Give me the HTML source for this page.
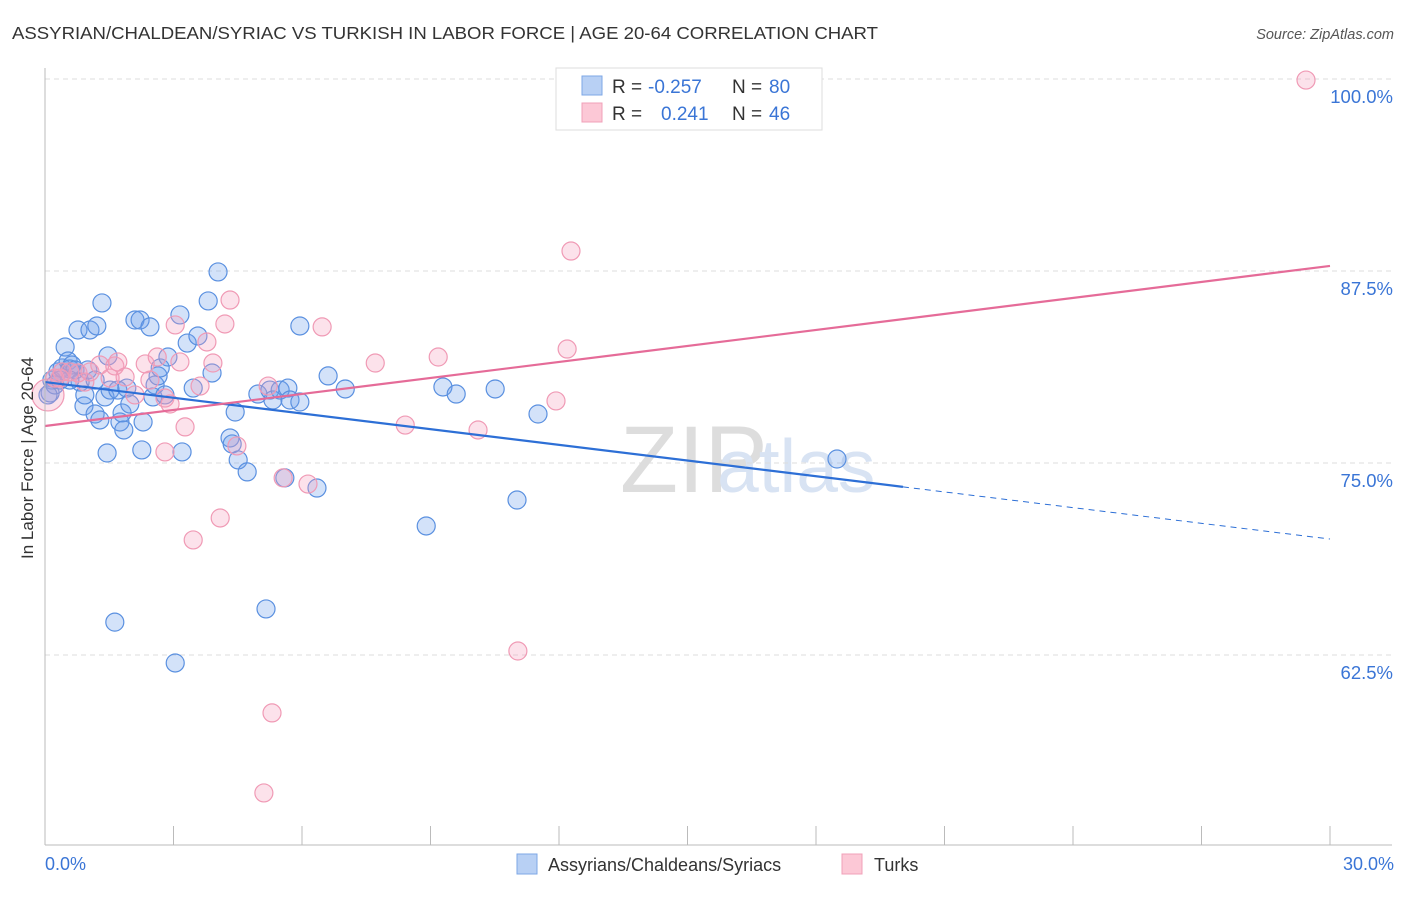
<!DOCTYPE html>
<html><head><meta charset="utf-8"><style>
body{margin:0;background:#fff;font-family:"Liberation Sans",sans-serif;}
svg text{font-family:"Liberation Sans",sans-serif;}
</style></head><body>
<svg id="c" width="1406" height="892">
<text x="12" y="39" font-size="17.5" fill="#333" textLength="866" lengthAdjust="spacingAndGlyphs">ASSYRIAN/CHALDEAN/SYRIAC VS TURKISH IN LABOR FORCE | AGE 20-64 CORRELATION CHART</text>
<text x="1394" y="39" font-size="14.5" fill="#555" font-style="italic" text-anchor="end">Source: ZipAtlas.com</text>
<text x="620" y="492" font-size="95" fill="#ddd" font-family="Liberation Serif">ZIP</text>
<text x="717" y="492" font-size="75" fill="#d8e3f3">atlas</text>
<g id="grid"></g><g id="pts"></g><g id="lines"></g>
<line x1="45" y1="68" x2="45" y2="845" stroke="#bbb"/>
<line x1="45" y1="845" x2="1392" y2="845" stroke="#bbb"/>
<text x="33" y="458" font-size="17" fill="#333" transform="rotate(-90 33 458)" text-anchor="middle">In Labor Force | Age 20-64</text>
<text x="45" y="870" font-size="18" fill="#3a75d6">0.0%</text>
<text x="1394" y="870" font-size="18" fill="#3a75d6" text-anchor="end">30.0%</text>
<g>
<rect x="556" y="68" width="266" height="62" fill="#fff" stroke="#ddd"/>
<rect x="582" y="76" width="20" height="19" fill="#b8d0f4" stroke="#7ea7e6"/>
<rect x="582" y="103" width="20" height="19" fill="#fcc8d6" stroke="#f0a0b8"/>
<text x="612" y="93" font-size="19" fill="#333">R = </text><text x="648" y="93" font-size="19" fill="#3a75d6">-0.257</text>
<text x="732" y="93" font-size="19" fill="#333">N = </text><text x="769" y="93" font-size="19" fill="#3a75d6">80</text>
<text x="612" y="120" font-size="19" fill="#333">R = </text><text x="661" y="120" font-size="19" fill="#3a75d6">0.241</text>
<text x="732" y="120" font-size="19" fill="#333">N = </text><text x="769" y="120" font-size="19" fill="#3a75d6">46</text>
</g>
<g>
<rect x="517" y="854" width="20" height="20" fill="#b8d0f4" stroke="#7ea7e6"/>
<text x="548" y="871" font-size="18" fill="#333">Assyrians/Chaldeans/Syriacs</text>
<rect x="842" y="854" width="20" height="20" fill="#fcc8d6" stroke="#f0a0b8"/>
<text x="874" y="871" font-size="18" fill="#333">Turks</text>
</g>
</svg>
<script>
const yTicks=[100,87.5,75,62.5];
const yTickLabels=["100.0%","87.5%","75.0%","62.5%"];
const xTicks=[0,3,6,9,12,15,18,21,24,27,30];
const blueX=[0.16,0.12,0.23,0.30,0.40,0.47,0.54,0.58,0.63,0.70,0.77,0.82,0.91,1.00,1.05,1.17,1.21,1.28,1.33,1.40,1.45,1.47,1.52,1.63,1.70,1.75,1.80,1.84,1.91,1.98,2.10,2.22,2.26,2.29,2.45,2.52,2.57,2.64,2.69,2.80,2.87,3.04,3.15,3.20,3.32,3.46,3.57,3.81,3.90,4.04,4.32,4.37,4.44,4.51,4.72,4.97,5.16,5.25,5.32,5.49,5.60,5.67,5.72,5.95,5.95,6.35,6.61,7.01,8.90,9.29,9.60,10.51,11.02,11.51,18.49,0.07,0.35,0.58,0.93,1.17];
const blueY=[80.40,79.56,80.08,80.93,81.19,82.55,81.64,81.12,81.38,81.06,83.66,80.27,78.71,81.06,83.66,78.19,83.92,77.80,85.42,79.30,75.65,81.97,79.75,64.64,79.75,77.67,78.26,77.15,79.88,78.84,84.31,84.31,75.85,77.67,83.86,79.30,80.08,80.67,81.19,79.43,81.90,61.98,84.64,75.72,82.81,79.88,83.27,85.55,80.86,87.44,76.63,76.24,78.32,75.20,74.42,79.49,65.50,79.75,79.10,79.75,74.03,79.88,79.10,78.97,83.92,73.37,80.67,79.82,70.90,79.95,79.49,79.82,72.59,78.19,75.26,79.43,80.40,80.40,79.43,80.40];
const pinkX=[0.07,0.23,0.40,0.58,0.77,0.93,1.05,1.28,1.52,1.63,1.70,1.87,2.10,2.34,2.45,2.62,2.80,2.92,3.04,3.15,3.27,2.80,3.46,3.62,3.78,3.92,4.09,4.20,4.32,4.48,5.21,5.30,5.11,5.56,6.14,6.47,7.71,8.41,9.18,10.11,11.04,11.93,12.19,12.28,29.44,0.35];
const pinkY=[79.43,80.53,80.93,80.93,80.86,80.27,80.93,81.38,80.53,81.32,81.58,80.60,79.43,81.45,80.40,81.90,79.23,78.84,83.99,81.58,77.35,75.72,69.99,80.01,82.88,81.51,71.42,84.05,85.61,76.11,80.01,58.73,53.52,74.03,73.63,83.86,81.51,77.47,81.90,77.15,62.76,79.04,82.42,88.80,99.93,80.53];
const blueTrend=[80.27,70.05], blueSolidEnd=20.03;
const pinkTrend=[77.41,87.83];
const NS='http://www.w3.org/2000/svg';
const sx=v=>45+v/30*1285, sy=v=>79+(100-v)/12.5*192;
function mk(t,a,p){const e=document.createElementNS(NS,t);for(const k in a)e.setAttribute(k,a[k]);p.appendChild(e);return e;}
const grid=document.getElementById('grid'),pts=document.getElementById('pts'),lines=document.getElementById('lines');
yTicks.forEach((v,i)=>{
 const l=mk('line',{x1:45,x2:1392,y1:sy(v),y2:sy(v),stroke:'#ddd','stroke-dasharray':'5,4'},grid);
 
 
 const t=mk('text',{x:1393,y:sy(v)+24,'font-size':18.5,fill:'#3a75d6','text-anchor':'end'},grid);
 t.textContent=yTickLabels[i];
 
 
});
xTicks.forEach(v=>{
 const l=mk('line',{x1:sx(v),x2:sx(v),y1:826,y2:845,stroke:'#bbb'},grid);
 
 
});
blueX.forEach((x,i)=>{
 const c=mk('circle',{cx:sx(x),cy:sy(blueY[i]),r:9,fill:'rgba(110,160,235,0.3)',stroke:'#5a90e0','stroke-width':1.2},pts);
 
 
});
pinkX.forEach((x,i)=>{
 const c=mk('circle',{cx:sx(x),cy:sy(pinkY[i]),r:i==0?16:9,fill:'rgba(245,160,190,0.3)',stroke:'#f09ab5','stroke-width':1.2},pts);
 
 
});
const by=x=>blueTrend[0]+(blueTrend[1]-blueTrend[0])*x/30;
let l1=mk('line',{x1:sx(0),y1:sy(by(0)),x2:sx(blueSolidEnd),y2:sy(by(blueSolidEnd)),stroke:'#2d6fd6','stroke-width':2.2},lines);


let l2=mk('line',{x1:sx(blueSolidEnd),y1:sy(by(blueSolidEnd)),x2:sx(30),y2:sy(by(30)),stroke:'#2d6fd6','stroke-width':1,'stroke-dasharray':'6,5'},lines);


let l3=mk('line',{x1:sx(0),y1:sy(pinkTrend[0]),x2:sx(30),y2:sy(pinkTrend[1]),stroke:'#e56b98','stroke-width':2.2},lines);


</script>
</body></html>
